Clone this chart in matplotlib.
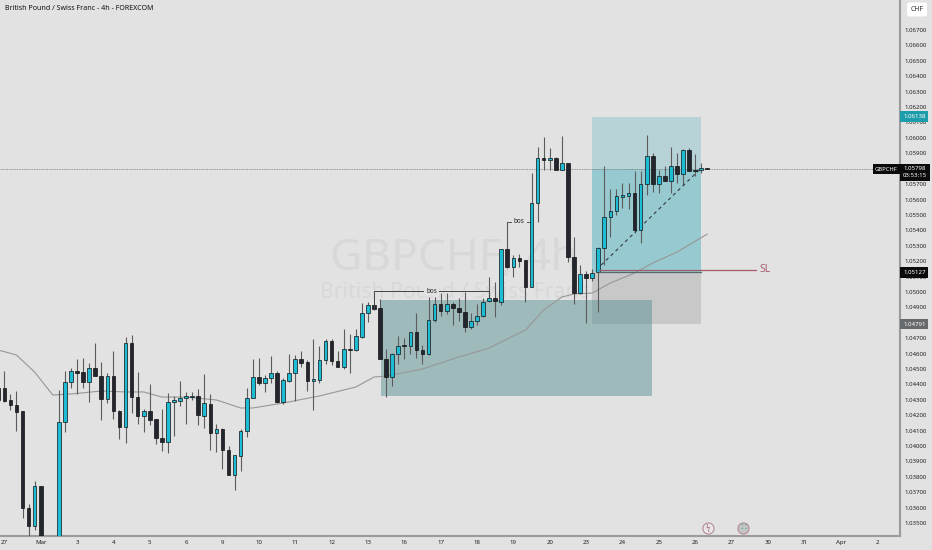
import numpy as np
import matplotlib.pyplot as plt
from matplotlib.patches import Rectangle

plt.rcParams['font.family'] = ['Noto Sans', 'DejaVu Sans']

# 4h candles, prices in 1e-5 units (c7-c9 run off the bottom of the chart)
opens = [104375,104375,104299,104269,104225,103596,103481,103741,103250,103100,103180,104154,104418,104485,104478,104414,104507,104457,104303,104457,
         104230,104126,104671,104316,104195,104225,104173,104052,104028,104284,104295,104312,104316,104323,104197,104275,104083,104111,103974,103812,
         103938,104096,104309,104445,104411,104441,104471,104285,104424,104474,104562,104543,104420,104430,104556,104683,104554,104515,104627,104623,
         104709,104865,104913,104893,104567,104450,104595,104653,104651,104737,104623,104597,104815,104921,104874,104921,104895,104872,104774,104813,
         104841,104939,104959,104937,105279,105164,105221,105205,105035,105580,105867,105857,105870,105792,105835,105225,104996,105119,105089,105128,
         105288,105485,105526,105619,105625,105645,105402,105699,105880,105701,105753,105720,105818,105766,105924,105792,105789,105802]
highs = [104450,104489,104336,104357,104230,103622,103773,103741,103300,103200,104364,104489,104509,104563,104574,104537,104671,104548,104472,104615,
         104234,104706,104721,104481,104238,104403,104173,104240,104342,104325,104420,104353,104351,104368,104468,104338,104141,104115,104000,103944,
         104113,104375,104562,104569,104461,104586,104487,104443,104595,104590,104619,104558,104696,104649,104692,104692,104616,104757,104725,104757,
         104926,104937,104917,104952,104627,104601,104716,104703,104742,104861,104655,104965,104965,104991,104991,104937,104958,105001,104865,104921,
         104958,105100,105063,105277,105456,105240,105247,105208,105774,105943,106004,105937,105874,106012,105835,105359,105175,105136,105149,105294,
         105818,105668,105666,105705,105709,105787,105787,106019,105900,105792,105818,105943,105900,105928,105932,105895,105835,105802]
lows = [104245,104288,104234,104100,103535,103412,103455,103150,103050,103000,103120,104093,104377,104338,104375,104288,104455,104169,104282,104176,
        104048,104022,104212,104141,104091,104135,104013,103966,103957,104067,104262,104141,104299,104135,104117,103977,103964,103853,103812,103715,
        103840,104057,104309,104396,104353,104411,104277,104270,104417,104294,104510,104355,104234,104411,104530,104526,104510,104497,104471,104616,
        104699,104807,104882,104562,104320,104389,104532,104567,104597,104569,104532,104590,104807,104843,104856,104785,104813,104742,104757,104785,
        104839,104937,104840,104916,105154,105095,105164,104937,105035,105452,105792,105789,105792,105792,105197,104922,104985,104797,105071,104868,
        105175,105359,105500,105547,105536,105385,105320,105629,105651,105640,105720,105645,105709,105694,105785,105755,105770,105796]
closes = [104299,104295,104266,104223,103596,103481,103741,103250,103100,103180,104154,104418,104485,104476,104414,104507,104457,104303,104457,104230,
          104126,104671,104316,104197,104225,104169,104052,104026,104286,104299,104314,104323,104323,104199,104277,104085,104111,103974,103812,103940,
          104096,104310,104445,104409,104441,104471,104288,104426,104474,104562,104541,104420,104433,104556,104683,104554,104515,104627,104625,104712,
          104865,104913,104891,104567,104450,104597,104649,104649,104737,104623,104597,104818,104921,104874,104921,104895,104872,104772,104813,104841,
          104937,104959,104939,105277,105164,105221,105203,105035,105580,105867,105859,105870,105792,105835,105225,104996,105119,105089,105125,105288,
          105485,105526,105623,105629,105645,105402,105699,105880,105701,105753,105720,105818,105766,105924,105785,105785,105802,105798]

# moving average, read at these candle numbers
ma_idx = [0,3,6,9,12,17,21,24,27,31,36,40,42,47,53,59,62,64,70,76,81,84,87,90,93,95,98,101,105,108,112,117]
ma_vals = [104623,104591,104480,104331,104338,104357,104351,104351,104318,104318,104299,104247,104247,104279,104325,104383,
           104448,104454,104500,104578,104636,104695,104753,104883,104967,104987,104993,105058,105123,105188,105259,105376]

price_ticks = np.arange(103500, 106701, 100)
date_labels = ['27','Mar','3','4','5','6','9','10','11','12','13','16','17','18','19','20','23','24','25','26','27','30','31','Apr','2']
date_idx = np.arange(1, 146, 6)

# drawings
last_price = 105798
entry = 105127
target = 106138
stop = 104791

bg = '#e2e2e2'
up = '#1cbcd4'
down = '#23262f'

opens, highs, lows, closes = [np.array(a) / 1e5 for a in (opens, highs, lows, closes)]
x = np.arange(len(opens))

fig = plt.figure(figsize=(9.32, 5.5), dpi=100, facecolor=bg)
ax = fig.add_axes([0, 14.3 / 550, 900 / 932, 535.7 / 550], facecolor=bg)
ax.set_xlim(0.2855, 148.8)
ax.set_ylim(1.03418, 1.06895)

# watermark
ax.text(0.505, 0.496, 'GBPCHF, 4h', transform=ax.transAxes, ha='center', va='baseline', fontsize=32, color='#d8d8d8', zorder=0)
ax.text(0.505, 0.4437, 'British Pound / Swiss Franc', transform=ax.transAxes, ha='center', va='baseline', fontsize=15.3, color='#d8d8d8', zorder=0)

# zones
ax.add_patch(Rectangle((63.16, 1.04325), 107.9 - 63.16, 1.04948 - 1.04325, fc='#4f8a8d', alpha=0.45, lw=0, zorder=2))
ax.add_patch(Rectangle((97.97, entry / 1e5), 18, (target - entry) / 1e5, fc='#b8d3d8', lw=0, zorder=1))
ax.add_patch(Rectangle((97.97, entry / 1e5), 18, (last_price - entry) / 1e5, fc='#96c9d0', lw=0, zorder=1))
ax.add_patch(Rectangle((97.97, stop / 1e5), 18, (entry - stop) / 1e5, fc='#c8c8c8', lw=0, zorder=1))

# last price line
ax.axhline(last_price / 1e5, color='#777777', lw=0.6, ls=(0, (1, 1)), zorder=1.5)

# moving average
ax.plot(ma_idx, np.array(ma_vals) / 1e5, color='#979797', lw=0.8, zorder=3)

# candles
colors = [up if c >= o else down for o, c in zip(opens, closes)]
ax.vlines(x, lows, highs, color='#5c5c5c', lw=0.8, zorder=4)
ax.bar(x, closes - opens, bottom=opens, width=0.6, color=colors, edgecolor='#111111', lw=0.5, zorder=5)

# bos brackets
ax.plot([62, 62, 81, 81], [1.04890, 1.05006, 1.05006, 1.04960], color='#444444', lw=0.7, zorder=6)
ax.plot([84, 84, 88], [1.05280, 1.05456, 1.05456], color='#555555', lw=0.7, zorder=3.5)
for bx, by in [(71.5, 1.05006), (86, 1.05456)]:
    ax.text(bx, by, 'bos', ha='center', va='center', fontsize=4.6, color='#222222', zorder=7,
            bbox=dict(fc=bg, ec='none', pad=1.2))

# SL line and trade path
ax.plot([99.2, 125], [1.05145, 1.05145], color='#a35a68', lw=0.9, zorder=6)
ax.plot([99.2, 116], [1.05127, 1.05127], color='#55686c', lw=0.9, zorder=6)
ax.text(125.6, 1.05145, 'SL', ha='left', va='center', fontsize=7.5, color='#a8606f', zorder=7)
ax.plot([99.5, 116], [1.05175, 1.05804], color='#333a40', lw=0.8, ls=(0, (3, 3)), zorder=4.5)

# event icons
ax.plot([117.1], [1.03468], ls='none', marker='o', ms=8, mfc='#e8e8e8', mec='#b58a97', mew=0.8, zorder=6)
ax.plot([122.9], [1.03468], ls='none', marker='o', ms=8, mfc='#c4c4c4', mec='#b58a97', mew=0.8, zorder=6)
ax.text(117.1, 1.03468, '\u03df', ha='center', va='center', fontsize=5.5, color='#a8606f', zorder=7)
ax.text(122.9, 1.03468, '\u2237', ha='center', va='center', fontsize=7, color='#2aa6b5', zorder=7)

# axes
for s in ['top', 'left']:
    ax.spines[s].set_visible(False)
for s in ['right', 'bottom']:
    ax.spines[s].set_color('#9b9b9b')
    ax.spines[s].set_linewidth(1.5)
ax.yaxis.tick_right()
ax.set_yticks(price_ticks / 1e5, ['%.5f' % (p / 1e5) for p in price_ticks])
ax.set_xticks(date_idx, date_labels)
ax.tick_params(axis='y', length=0, pad=3, labelsize=4.4, labelcolor='#222222')
ax.tick_params(axis='x', length=0, pad=3, labelsize=4.4, labelcolor='#222222')
for lab in ax.get_xticklabels():
    if lab.get_text() in ('Mar', 'Apr'):
        lab.set_fontweight('bold')

# price tags
ty = ax.get_yaxis_transform()
def tag(price, label, fc):
    ax.text(1.0035, price / 1e5, label, transform=ty, ha='left', va='center', fontsize=4.4, color='white',
            fontweight='bold', clip_on=False, zorder=10, bbox=dict(boxstyle='square,pad=0.45', fc=fc, ec='none'))

tag(target, '%.5f' % (target / 1e5), '#1d9cab')
tag(entry, '%.5f' % (entry / 1e5), '#0b0b0b')
tag(stop, '%.5f' % (stop / 1e5), '#666a6d')
ax.text(1.0035, 1.05778, '%.5f\n03:53:15' % (last_price / 1e5), transform=ty, ha='left', va='center', fontsize=4.4,
        color='white', linespacing=1.35, clip_on=False, zorder=10, bbox=dict(boxstyle='square,pad=0.45', fc='#0b0b0b', ec='none'))
ax.text(0.9975, last_price / 1e5, 'GBPCHF', transform=ty, ha='right', va='center', fontsize=4.2, color='white', fontweight='bold',
        clip_on=False, zorder=10, bbox=dict(boxstyle='square,pad=0.4', fc='#0b0b0b', ec='none'))

# header
fig.text(5 / 932, 1 - 9 / 550, 'British Pound / Swiss Franc - 4h - FOREXCOM', ha='left', va='center', fontsize=5.1, fontweight='bold', color='#111111')
fig.text(917 / 932, 1 - 9.5 / 550, 'CHF', ha='center', va='center', fontsize=5, color='#333333',
         bbox=dict(boxstyle='round,pad=0.5,rounding_size=0.3', fc='white', ec='none'))

fig.savefig('out.png', dpi=100, facecolor=bg)
